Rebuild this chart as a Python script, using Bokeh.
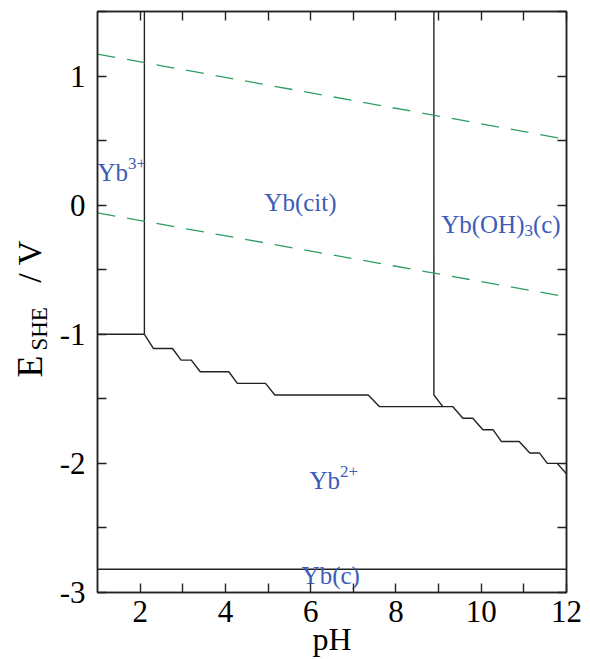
import math
from bokeh.plotting import figure
from bokeh.layouts import row
from bokeh.models import LinearAxis, FixedTicker, Range1d
from bokeh.core.properties import value
from bokeh.embed import file_html
from bokeh.resources import INLINE

# ---------------- data ----------------
ph_range = [1, 12]
e_range = [-3.0, 1.5]

x_major = [2, 4, 6, 8, 10, 12]
x_minor = [3, 5, 7, 9, 11]
y_major = [-3, -2, -1, 0, 1]
y_minor = [-2.5, -1.5, -0.5, 0.5, 1.5]
y_labels = {1: "1", 0: "0", -1: "-1", -2: "-2", -3: "-3"}

# Yb3+ | Yb(cit) vertical boundary
v1_ph = [2.1, 2.1]
v1_e = [1.5, -1.0]
# Yb3+ | Yb2+ horizontal boundary
h1_ph = [1.0, 2.1]
h1_e = [-1.0, -1.0]
# Yb(cit) / Yb(OH)3(c) | Yb2+ stepped boundary
step_ph = [2.1, 2.31, 2.76, 2.96, 3.20, 3.41, 4.08, 4.28, 4.94, 5.16, 7.35, 7.61,
           9.33, 9.57, 9.80, 10.04, 10.28, 10.47, 10.89, 11.14, 11.37, 11.55, 11.78, 12.0]
step_e = [-1.0, -1.11, -1.11, -1.20, -1.20, -1.29, -1.29, -1.38, -1.38, -1.47, -1.47, -1.56,
          -1.56, -1.65, -1.65, -1.74, -1.74, -1.83, -1.83, -1.92, -1.92, -2.00, -2.00, -2.08]
# Yb(cit) | Yb(OH)3(c) boundary
v2_ph = [8.89, 8.89, 9.10]
v2_e = [1.5, -1.47, -1.56]
# Yb2+ | Yb(c) boundary
h2_ph = [1.0, 12.0]
h2_e = [-2.82, -2.82]
# water stability lines
w_ph = [1.0, 12.0]
w_upper = [1.17, 0.51]
w_lower = [-0.06, -0.71]

FONT = "Liberation Serif"
BLUE = "#3d5cb8"
GREEN = "#2e9e62"
LINE = "#222222"

yr = Range1d(*e_range)

# ---- left strip holding the y-axis title (E_SHE / V) ----
LW = 56
left = figure(width=LW, height=659, output_backend="svg", toolbar_location=None,
              x_range=Range1d(0, LW), y_range=yr, x_axis_location=None, y_axis_location=None,
              min_border_left=0, min_border_right=0, min_border_top=11, min_border_bottom=67)
left.xgrid.visible = False
left.ygrid.visible = False
left.outline_line_color = None
left.background_fill_color = "white"
left.border_fill_color = "white"
for tx, ty, t, s in [(29, -1.335, "E", 36), (39, -1.126, "SHE", 23), (29, -0.60, "/ V", 34)]:
    left.text(x=[tx], y=[ty], text=[t], angle=math.pi / 2, text_font=value(FONT),
              text_font_size=f"{s}px", text_color="black",
              text_align="left", text_baseline="alphabetic")

# ---- main plot ----
p = figure(width=590 - LW, height=659, output_backend="svg", toolbar_location=None,
           x_range=Range1d(*ph_range), y_range=yr,
           min_border_left=97 - LW, min_border_right=24, min_border_top=11, min_border_bottom=67)
p.xgrid.visible = False
p.ygrid.visible = False
p.outline_line_color = LINE
p.outline_line_width = 1.5
p.background_fill_color = "white"
p.border_fill_color = "white"

def style_axis(ax, ticks, minor, labels=True):
    ax.ticker = FixedTicker(ticks=ticks, minor_ticks=minor)
    ax.major_tick_in = 9
    ax.major_tick_out = 0
    ax.minor_tick_in = 9
    ax.minor_tick_out = 0
    ax.major_tick_line_color = LINE
    ax.minor_tick_line_color = LINE
    ax.major_tick_line_width = 1.4
    ax.minor_tick_line_width = 1.4
    ax.axis_line_color = LINE
    ax.axis_line_width = 1.5
    ax.major_label_text_font = FONT
    ax.major_label_text_color = "black"
    ax.major_label_text_font_size = "31px"
    if not labels:
        ax.major_label_overrides = {t: "" for t in ticks}
        ax.major_label_standoff = 0

style_axis(p.xaxis[0], x_major, x_minor)
p.xaxis[0].major_label_standoff = 8
p.xaxis[0].axis_label = "pH"
p.xaxis[0].axis_label_text_font = FONT
p.xaxis[0].axis_label_text_font_size = "32px"
p.xaxis[0].axis_label_text_font_style = "normal"
p.xaxis[0].axis_label_text_color = "black"
p.xaxis[0].axis_label_standoff = -4

style_axis(p.yaxis[0], y_major, y_minor)
p.yaxis[0].major_label_standoff = 12
p.yaxis[0].major_label_overrides = y_labels

top = LinearAxis()
style_axis(top, x_major, x_minor, labels=False)
p.add_layout(top, "above")
right = LinearAxis()
style_axis(right, y_major, y_minor, labels=False)
p.add_layout(right, "right")

# boundaries
for xs, ys in [(v1_ph, v1_e), (h1_ph, h1_e), (step_ph, step_e), (v2_ph, v2_e), (h2_ph, h2_e)]:
    p.line(xs, ys, line_color=LINE, line_width=1.4)
p.line(w_ph, w_upper, line_color=GREEN, line_width=1.3, line_dash="18 12")
p.line(w_ph, w_lower, line_color=GREEN, line_width=1.3, line_dash="18 12")

# region labels with sub/superscripts
WIDTHS = {'Y': .722, 'b': .5, '(': .333, ')': .333, 'O': .722, 'H': .722, 'c': .444,
          'i': .278, 't': .278, '2': .5, '3': .5, '+': .564}

def twidth(s, size):
    return sum(WIDTHS[c] for c in s) * size

def rich(x, y, pieces, align="left"):
    total = sum(twidth(t, s) for t, s, _ in pieces)
    off = 0 if align == "left" else -total / 2
    for t, s, dy in pieces:
        p.text(x=[x], y=[y], text=[t], x_offset=off, y_offset=dy,
               text_font=value(FONT), text_font_size=f"{s}px", text_color=BLUE,
               text_baseline="alphabetic", text_align="left")
        off += twidth(t, s)

rich(1.0, 0.25, [("Yb", 25, 0), ("3+", 17, -9)])
rich(5.76, 0.02, [("Yb(cit)", 25, 0)], align="center")
rich(9.06, -0.15, [("Yb(OH)", 25, 0), ("3", 17, 6), ("(c)", 25, 0)])
rich(6.54, -2.13, [("Yb", 25, 0), ("2+", 17, -9)], align="center")
rich(6.47, -2.87, [("Yb(c)", 25, 0)], align="center")

layout = row(left, p)
open("out.html", "w").write(file_html(layout, INLINE))
